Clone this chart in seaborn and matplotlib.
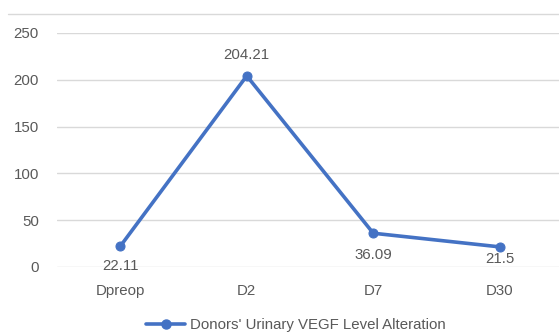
import matplotlib
matplotlib.use("Agg")
import matplotlib.pyplot as plt
from matplotlib.lines import Line2D
import seaborn as sns
import pandas as pd

days = ["Dpreop", "D2", "D7", "D30"]
vegf = [22.11, 204.21, 36.09, 21.5]
series_name = "Donors' Urinary VEGF Level Alteration"

# vertical offset (points) of each value label from its marker
label_offsets = [-9, 10, -11, -4]

sns.set_theme(style="white")
plt.rcParams["font.family"] = ["Liberation Sans", "DejaVu Sans"]

text_color = "#595959"
line_color = "#4472C4"
grid_color = "#D9D9D9"
fs = 10.8

df = pd.DataFrame({"day": days, "vegf": vegf, "pos": range(len(days))})

fig = plt.figure(figsize=(5.59, 3.34), dpi=100)
ax = fig.add_axes([57 / 559, 1 - 267 / 334, 506 / 559, (267 - 33) / 334])

sns.lineplot(data=df, x="pos", y="vegf", ax=ax, color=line_color,
             linewidth=2.6, marker="o", markersize=6.5,
             markeredgecolor=line_color, legend=False)

ax.set_xlim(-0.5, len(days) - 0.5)
ax.set_ylim(0, 250)
ax.set_yticks(range(0, 251, 50))
ax.set_xticks(range(len(days)))
ax.set_xticklabels(days)
ax.set_xlabel("")
ax.set_ylabel("")
ax.yaxis.grid(True, color=grid_color, linewidth=1)
ax.set_axisbelow(True)
for s in ax.spines.values():
    s.set_visible(False)
ax.tick_params(axis="both", length=0, labelsize=fs, colors=text_color)
ax.tick_params(axis="y", pad=13)
ax.tick_params(axis="x", pad=12)

for i, (v, dy) in enumerate(zip(vegf, label_offsets)):
    ax.annotate(f"{v:g}", (i, v), xytext=(0, dy), textcoords="offset points",
                ha="center", va="bottom" if dy > 0 else "top",
                fontsize=fs, color=text_color)

# top border of the chart area
fig.add_artist(Line2D([8 / 559, 1], [1 - 14 / 334, 1 - 14 / 334],
                      transform=fig.transFigure, color=grid_color, linewidth=1))

handle = Line2D([], [], color=line_color, linewidth=2.6, marker="o",
                markersize=6.5)
fig.legend([handle], [series_name], loc="center", bbox_to_anchor=(296 / 559, 1 - 325 / 334),
           frameon=False, fontsize=fs, labelcolor=text_color, handlelength=2.6,
           handletextpad=0.3, borderaxespad=0)

fig.savefig("out.png", dpi=100, facecolor="white")
